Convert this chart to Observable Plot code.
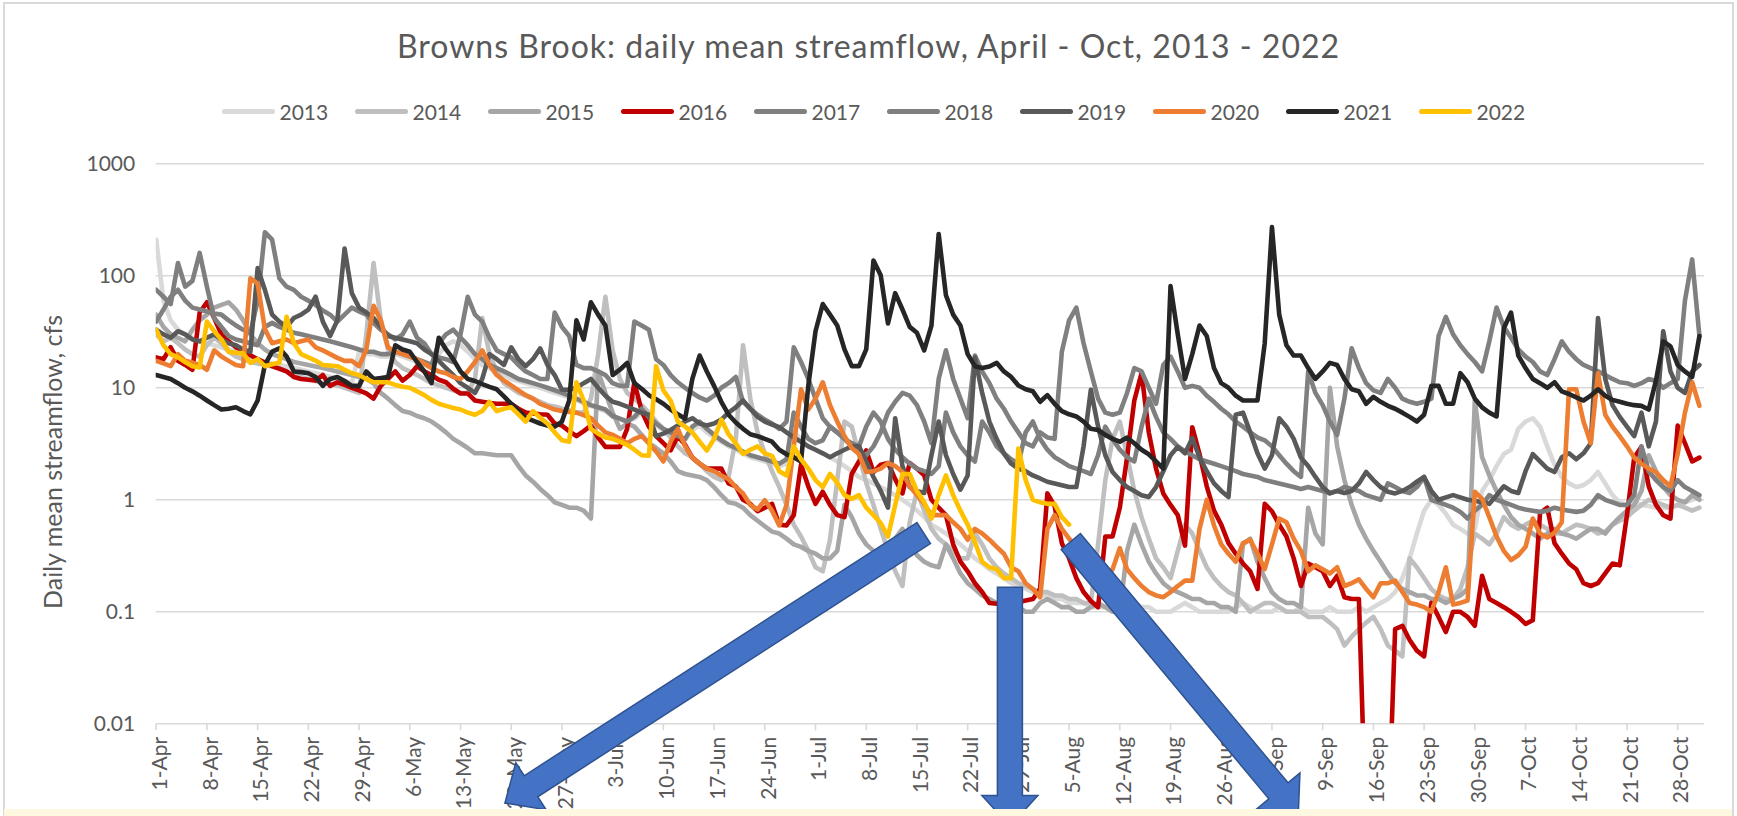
<!DOCTYPE html>
<html><head><meta charset="utf-8">
<script src="https://cdn.jsdelivr.net/npm/d3@7"></script>
<script src="https://cdn.jsdelivr.net/npm/@observablehq/plot@0.6"></script>
<style>
html,body{margin:0;padding:0;background:#fff;width:1737px;height:816px;overflow:hidden;font-family:Lato,sans-serif;}
#frame{position:absolute;left:3px;top:2px;width:1731px;height:840px;border:2px solid #d9d9d9;box-sizing:border-box;}
#title{position:absolute;left:0;width:1737px;top:30px;text-align:center;font-size:32px;line-height:32px;letter-spacing:1px;color:#595959;white-space:nowrap;}
#legend{position:absolute;left:221.5px;top:100px;display:flex;}
.item{width:133px;display:flex;align-items:center;height:22px;}
.sw{width:53px;height:5px;border-radius:3px;margin-right:5px;}
.lab{font-size:21px;color:#595959;line-height:21px;}
#ylab{position:absolute;left:52px;top:462px;transform:translate(-50%,-50%) rotate(-90deg);font-size:25px;color:#595959;white-space:nowrap;}
#chart{position:absolute;left:0;top:140px;}
#strip{position:absolute;left:4px;top:809px;width:1728px;height:7px;background:#fef8e0;}
#dbg{position:absolute;left:10px;top:10px;color:red;font-size:14px;}
</style></head><body>
<div id="frame"></div>
<div id="title">Browns Brook: daily mean streamflow, April - Oct, 2013 - 2022</div>
<div id="legend"></div>
<div id="ylab">Daily mean streamflow, cfs</div>
<div id="chart"></div>
<div id="strip"></div>
<div id="dbg"></div>
<script>
// ---- categories / labels ----
const years = ["2013","2014","2015","2016","2017","2018","2019","2020","2021","2022"];
const colors = ["#D9D9D9","#BFBFBF","#A6A6A6","#C00000","#808080","#7F7F7F","#595959","#ED7D31","#262626","#FFC000"];
const xTickDays = [0,7,14,21,28,35,42,49,56,63,70,77,84,91,98,105,112,119,126,133,140,147,154,161,168,175,182,189,196,203,210];
const xTickLabels = ["1-Apr","8-Apr","15-Apr","22-Apr","29-Apr","6-May","13-May","20-May","27-May","3-Jun","10-Jun","17-Jun","24-Jun","1-Jul","8-Jul","15-Jul","22-Jul","29-Jul","5-Aug","12-Aug","19-Aug","26-Aug","2-Sep","9-Sep","16-Sep","23-Sep","30-Sep","7-Oct","14-Oct","21-Oct","28-Oct"];
const yTickValues = [0.01,0.1,1,10,100,1000];
const yTickLabels = ["0.01","0.1","1","10","100","1000"];

// ---- daily mean streamflow (cfs), one value per day from 1-Apr ----
const v2013 = [210,60,40,33,30,28,26, 25,24,23,22,21,20,19, 18,17,16.5,16,15.5,15,14.5, 14,13.5,13,12.5,12,11.5,11, 21,20,20,19,19,20,19, 18,17,16,15,20,24,26, 24,21,18,16,15,14,13, 12,11.5,11,10.5,10,9.5,9, 8.6,8.2,7.8,7.3,6.9,6.5,6.2, 5.5,5.2,5,5.3,6,5.3,4.6, 4.2,3.9,3.6,3.4,4.2,4.6,4, 3.6,3.3,3,2.8,2.6,2.4,2.3, 2.2,2.1,2,2.1,4,3.5,3, 2.8,2.6,2.4,2.2,2,1.8,1.6, 1.5,1.4,1.3,1.2,1.1,1,0.9, 0.8,0.7,0.6,0.55,0.5,0.45,0.4, 0.35,0.3,0.27,0.24,0.22,0.2,0.18, 0.17,0.16,0.15,0.14,0.14,0.13,0.13, 0.12,0.12,0.12,0.11,0.11,0.11,0.12, 0.13,0.12,0.12,0.11,0.11,0.1,0.1, 0.1,0.11,0.12,0.11,0.1,0.1,0.1, 0.1,0.1,0.11,0.12,0.11,0.1,0.1, 0.1,0.11,0.1,0.1,0.11,0.1,0.1, 0.1,0.11,0.1,0.1,0.1,0.11,0.1, 0.11,0.12,0.13,0.15,0.2,0.3,0.5, 0.8,1,0.9,0.75,0.6,0.55,0.5, 0.55,1.2,1.5,2,2.56,2.8,4.3, 5,5.35,4.5,3,2.06,1.6,1.4, 1.3,1.35,1.5,1.77,1.4,1.1,0.95, 0.9,0.95,0.9,0.88,0.85,0.85,0.85, 0.9,0.95,1,1.06];
const v2014 = [30,26,28,25,22,20,19, 24,28,25,21,19,18,17, 16.5,16,15.5,15,14,13,12.5, 12,11.5,11,11,10.5,10,9.5, 9,30,130,40,22,17,15, 14,13,12,11,10.5,10,9.5, 9,9,12,42,20,14,11, 10,9,8.5,8,7.5,7,6.8, 6.5,6.3,6,6,8,20,65, 21.6,12,9,8,7,6,5, 4.3,3.6,3,2.6,2.4,2.1,1.8, 1.6,1.5,1.6,3.5,24,8,4, 2.6,1.8,1.3,0.9,0.6,0.47,0.35, 0.25,0.23,0.44,1.5,5,4.5,2.5, 1.42,0.9,0.55,0.35,0.23,0.17,0.63, 1.2,0.8,0.55,0.45,0.4,0.35,0.3, 0.3,0.5,0.4,0.3,0.25,0.22,0.2, 0.18,0.17,0.16,0.15,0.15,0.14,0.14, 0.13,0.13,0.12,0.12,0.4,1.5,3.5, 5,2.5,1.2,0.7,0.45,0.3,0.25, 0.2,0.35,0.6,0.5,0.35,0.25,0.2, 0.17,0.15,0.14,0.12,0.1,0.11,0.12, 0.12,0.11,0.1,0.1,0.1,0.09,0.09, 0.09,0.08,0.07,0.05,0.06,0.07,0.08, 0.09,0.07,0.05,0.045,0.04,0.3,0.25, 0.2,0.16,0.14,0.13,0.13,0.16,0.25, 0.5,0.45,0.4,0.5,0.7,0.6,0.55, 0.6,0.65,0.6,0.55,0.5,0.5,0.55, 0.6,0.58,0.55,0.5,0.52,0.6,0.65, 0.7,0.8,0.9,1,0.95,0.9,0.85, 0.9,0.85,0.8,0.85];
const v2015 = [45,35,30,28,26,33,40, 45,52,55,58,50,40,30, 25,22,20,19,18,17,16.5, 16,15.5,15,14.5,14,13.5,13, 12.5,12,11,9,8,7,6.2, 6,5.6,5.35,5,4.5,4,3.5, 3.2,2.9,2.6,2.6,2.55,2.5,2.5, 2.5,2,1.65,1.45,1.25,1.1,0.95, 0.9,0.85,0.85,0.8,0.68,14,9, 6,4.3,4.8,4.5,3.8,3.2,2.9, 2.6,2.2,1.8,1.7,1.65,1.6,1.5, 1.3,1.1,0.95,0.92,0.85,0.73,0.65, 0.58,0.52,0.5,0.45,0.4,0.38,0.35, 0.33,0.3,0.3,0.35,0.9,0.7,0.5, 0.4,0.35,0.3,0.3,0.45,0.55,0.4, 0.32,0.28,0.26,0.25,0.4,0.3,0.22, 0.18,0.16,0.14,0.13,0.12,0.12,0.11, 0.11,0.1,0.1,0.12,0.13,0.12,0.11, 0.11,0.1,0.1,0.11,0.12,0.11,0.1, 0.1,0.35,0.6,0.4,0.28,0.22,0.18, 0.16,0.15,0.14,0.13,0.13,0.12,0.12, 0.11,0.11,0.1,0.4,0.45,0.28,0.2, 0.15,0.13,0.12,0.12,0.11,0.85,0.5, 0.4,10,3,1.5,0.9,0.6,0.45, 0.35,0.28,0.22,0.18,0.16,0.15,0.14, 0.14,0.13,0.13,0.12,0.13,0.14,0.16, 7.7,2.4,1.65,1.2,0.9,0.7,0.6, 0.55,0.5,0.45,0.5,0.55,0.5,0.48, 0.45,0.5,0.55,0.55,0.5,0.6,0.7, 0.8,0.9,1.2,2.5,1.8,1.3,1.1, 1,0.95,1.1,1];
const v2016 = [18.7,18,23,17.4,16,14.5,47, 58,42,30,26,23,21.6,19.5, 18,16.8,15.6,14.8,14,12.5,12, 11.8,11.6,13,10.4,11.2,10.6,10, 9.5,8.9,8,10.4,12,14,11.6, 13,15.6,14,13,11.8,11.2,9.8, 8.9,8.9,7.7,7.5,7.3,7.2,7.2, 7.2,6.5,6,5.9,5.8,5.75,4.8, 4.6,4.1,3.7,4.1,4.6,3.6,2.97, 2.97,2.97,4.3,11.2,6.2,4.5,3.7, 3.2,2.76,3.7,3.1,2.38,2.1,1.9, 1.9,1.9,1.4,1.32,1,0.92,0.79, 0.85,0.92,0.6,0.59,0.73,2.06,1.32, 0.92,1.18,0.9,0.73,0.7,1.7,2.2, 2.76,1.77,2.06,2.13,1.53,1.14,2.13, 1.9,1.65,1,0.85,0.73,0.4,0.28, 0.23,0.18,0.15,0.12,0.118,0.116,0.12, 0.122,0.126,0.13,0.16,1.14,0.88,0.41, 0.3,0.2,0.15,0.125,0.11,0.47,0.47, 0.85,2.38,7.7,13.5,4,1.9,1.14, 0.9,0.73,0.39,4.45,2.56,1.32,0.8, 0.6,0.41,0.33,0.27,0.23,0.16,0.92, 0.79,0.6,0.47,0.3,0.17,0.27,0.25, 0.23,0.17,0.21,0.135,0.13,0.13,0.001, 0.001,0.001,0.001,0.07,0.075,0.056,0.045, 0.04,0.12,0.09,0.066,0.1,0.1,0.09, 0.075,0.21,0.13,0.12,0.11,0.1,0.09, 0.078,0.084,0.76,0.85,0.41,0.33,0.27, 0.24,0.18,0.17,0.18,0.22,0.27,0.26, 0.73,2.38,2.97,1.32,0.9,0.73,0.68, 4.6,3.2,2.2,2.38];
const v2017 = [39,50,65,75,60,52,50, 48,46,45,40,36,33,31, 60,245,210,95,80,75,65, 60,55,49,45,39,45,52, 48,45,38,33,30,27,30, 39,28,25,20,18.7,18,17, 30,65,45,39,28,21.6,20, 18.7,16,14,13,12,12,47, 35,29,16,15,15,14,13, 11,10.4,10.4,39,36,33,18, 16,13,11.2,10,9,8.2,7.7, 8.5,10,11,12.5,7.5,6.5,5.75, 5.2,4.8,4.3,5,23,17,12, 8,5.35,4.5,4,3.5,3,2.7, 2.5,3,4,6,7.5,9,8.5, 7,5,3.2,12,21.6,12,8, 5.35,19.4,14,11,8,6.5,5, 4,3.2,3,4,3.6,3.5,21, 40,52,25,14,8,6,5.75, 6,9,15,14,10,7.2,16, 19,14,10,10.4,10,8.5,7.5, 6.5,5.8,5,4.5,4,3.6,3.4, 3,2.5,2.1,1.8,1.6,14,9, 7,5,3.8,8,22.5,15,11, 9.5,9,12,10,8,7.5,7.2, 7.5,8,29,43,30,24,20, 17,14,26,52,35,28,22, 19,17,14,13,18,26,21, 18,16,15,14,13,12,11.2, 11,10.4,11,12,11.5,10,11, 12,60,140,29];
const v2018 = [75,65,56,130,80,90,160, 80,42,35,29,27,26,25, 24,35,38,35,33,31,30, 29,28,27,26,25,24,23, 22,21,21,20,20,21,20, 19,18,17,16,25,30,33, 28,24,20,18,16,15,14, 13,12,11.5,11,10.5,10,9.5, 9,8.5,8,7.5,7,6.7,6.4, 5.6,5.3,5,5.5,6.5,5.5,4.8, 4.3,4,3.7,3.5,4.5,5,4.3, 3.8,3.4,3.1,2.9,2.7,2.5,2.4, 2.3,2.2,2.1,2.3,6,4.5,3.5, 3.2,3.4,4.5,4,3.5,3.2,3, 4.5,6,5,3.5,2.8,2.4,2.1, 1.9,1.8,1.7,2,6,4,3, 2.5,2.2,5,4,3,2.6,2.3, 2.1,4,5,3.5,2.8,2.4,2.2, 2,1.9,1.8,1.7,2.5,4.5,3.5, 2.8,2.4,2.2,4.5,8,5.5,4, 3.5,3,2.7,2.5,2.3,2.2,2.1, 2,1.9,1.8,1.7,1.65,1.6,1.5, 1.45,1.4,1.35,1.3,1.25,1.3,1.25, 1.2,1.15,1.2,1.3,1.25,1.2,1.1, 1.05,1,1.4,1.3,1.2,1.15,1.3, 1.6,1,0.95,0.9,0.85,0.78,0.68, 0.8,0.9,1.1,1,0.95,0.9,0.85, 0.82,0.8,0.78,0.8,0.85,0.82,0.8, 0.78,0.8,0.9,1.1,1,0.95,0.9, 0.9,1.1,3,1.8,1.5,1.3,1.2, 1.5,1.3,1.2,1.1];
const v2019 = [33,30,28,32,30,27,26, 28,30,27,25,24,22,21, 117,75,45,39,35,42,45, 50,65,39,29,40,175,70, 52,47,42,35,29,28,27, 26,25,22,20,17.4,15,13, 11,10,9,12,20,18,16, 23,18,15.6,18,22.5,16,13, 9.6,9.6,10,11,12,10,8.5, 7.5,7.2,6.8,6.4,6,5.75,3.7, 3.9,4.2,4.6,5,5.35,4.8,4.6, 4.8,5.2,6,6.7,7.7,6.5,5.5, 5,4.7,4.45,4,3.6,3.3,3, 2.8,2.6,2.4,2.6,2.8,3,3, 2.2,1.6,1.2,0.85,5.35,2,1.3, 1.2,1.15,2.5,5,2.5,1.7,1.23, 1.65,18.7,9,5,3.5,2.6,2.1, 1.9,1.8,1.65,1.55,1.45,1.4,1.35, 1.3,1.3,3,9.6,4.5,2.5,1.77, 1.5,1.3,1.2,1.1,1.06,1.3,1.8, 2.5,2.97,2.6,3.55,2.4,1.8,1.4, 1.2,1.06,5.75,6,4,2.6,1.9, 2.5,5.35,4.5,3.5,2.38,2,1.6, 1.3,1.14,1.2,1.15,1.2,1.4,1.77, 1.5,1.3,1.18,1.14,1.2,1.3,1.45, 1.6,1.2,1,1.05,1.1,1.05,1, 0.98,0.95,0.92,1.1,1.32,1.2,1.15, 1.8,2.56,2.2,1.9,1.77,2.4,2.6, 2.3,2.6,3.2,42,12,7,5.5, 4.5,3.7,6,3,5,32,14, 10,9,14,16];
const v2020 = [17.4,16.5,15.6,20,17.4,16.8,16, 14.5,21.6,19,17.4,16,15.6,95, 85,33.5,25,26,27,25,26, 27,23,21.6,20,18.5,17.4,17.4, 15.6,22,54,40,23,21,20, 19,18,16.5,15,14,13.5,12.5, 12,14,17,21.6,16,13,11.6, 10.5,9.5,8.6,8,7.2,6.8,6.4, 6.2,6.1,6,5.7,5.35,4.6,4, 3.8,3.5,3.2,3.5,3.7,3.2,2.7, 2.2,3.3,4.3,3,2.38,2.1,1.9, 1.8,1.65,1.53,1.3,1.14,0.9,0.82, 0.99,0.8,0.59,0.9,3,9.7,6.4, 8,11.2,7,5,3.7,2.9,2.56, 1.77,1.8,1.9,2.13,2,1.77,1.32, 1.1,0.92,0.73,0.73,0.73,0.63,0.55, 0.44,0.55,0.5,0.44,0.38,0.33,0.25, 0.23,0.18,0.16,0.135,0.55,0.73,0.55, 0.45,0.38,0.3,0.23,0.18,0.2,0.24, 0.37,0.24,0.2,0.17,0.15,0.14,0.135, 0.15,0.17,0.19,0.19,0.55,1,0.59, 0.4,0.33,0.28,0.41,0.44,0.33,0.24, 0.4,0.68,0.63,0.45,0.35,0.23,0.26, 0.24,0.22,0.25,0.17,0.18,0.195,0.16, 0.135,0.18,0.18,0.19,0.15,0.12,0.116, 0.11,0.1,0.15,0.25,0.116,0.12,0.126, 1.18,1.02,0.7,0.47,0.35,0.29,0.32, 0.38,0.68,0.5,0.46,0.51,0.63,9.7, 9.7,5,3.2,13.5,5.75,4.5,3.7, 3,2.38,2.1,1.9,1.77,1.5,1.32, 2.56,6,11.2,6.9];
const v2021 = [13,12.5,12,11,10,9.3,8.5, 7.7,7,6.4,6.5,6.7,6.2,5.8, 7.7,16,21,22.5,19,14,13.8, 13.5,12.5,10.4,12,12.5,11.5,10.4, 10.4,14,12,12.2,12.5,24,22, 21,17,14,11,28,22,18, 14,12,11.5,10.8,10.2,9.7,8.4, 7.2,6.3,5.4,5.1,4.8,4.6,4.5, 5,7.7,40,27,58,45,36, 13,14.5,16.7,11,9.8,8.6,7.9, 7.2,6.4,5.8,5.3,12,19.4,14, 10.4,7.5,5.75,4.9,4.3,3.85,3.7, 3.5,3.3,2.8,2.55,2.4,2.2,10.4, 32,56,45,36,22,15.6,15.6, 22,137,101,37.5,70,50,35, 31,21.6,36,236,67,45,36, 20,15.6,15,15.5,16.7,14,12.5, 10.5,9.7,9.3,7.5,8.6,7.2,6.2, 5.8,5.55,5,4.3,4.2,3.8,3.5, 3.3,3.6,3.2,2.8,2.55,2.2,1.9, 81,30,12,20,36,29,15, 11,10,8.5,7.7,7.7,7.7,25, 272,45,24,19.4,19.4,15,12, 14,16.7,16,12,9.7,9.3,7.2, 8.3,7.5,6.9,6.5,6,5.5,5, 5.75,10.4,10.4,7.2,7.2,13.5,11.2, 8,6.7,6,5.55,34,47,19.4, 15,12,11,10,11.2,9.3,8.8, 8.2,7.7,8.5,9.7,8.5,7.8,7.5, 7.2,7,6.9,6.4,11.6,26,23.4, 16,14,12.5,29];
const v2022 = [33,24,20,18.7,17,15.6,15.2, 39,32,27,21,20.5,20.3,16.7, 18,15.6,16.2,16.7,43,25,20, 18.7,17.5,16,15.8,15.6,14.5,13.5, 13,12,11.2,11.2,11.2,10.6,10.2, 10,9.3,8.6,7.8,7.2,6.9,6.6, 6.4,6,5.75,6.2,7.5,6.2,6.5, 6.7,5.8,5,6.2,5.4,4.8,4, 3.4,3.3,11.2,7.7,4.3,3.9,3.6, 3.5,3.3,3.1,2.8,2.5,2.47,15.6, 9.5,7.7,5,4.5,4,3.3,2.76, 3.5,5.2,3.85,3.2,2.56,2.8,3, 2.6,2.47,1.8,1.65,3,2.3,1.9, 1.5,1.3,1.7,1.42,1.1,1.02,1.1, 0.85,0.73,0.62,0.47,0.9,1.7,1.7, 1.2,0.95,0.68,1.1,1.65,1.1,0.8, 0.6,0.42,0.28,0.25,0.24,0.2,0.2, 2.87,1.5,1,0.95,0.92,0.92,0.7, 0.6];
const seriesValues = [v2013,v2014,v2015,v2016,v2017,v2018,v2019,v2020,v2021,v2022];

// ---- block-arrow annotations (tail -> tip, in day / cfs) ----
const arrowFromDay = [106.0, 117.9, 126.3];
const arrowFromVal = [0.50, 0.164, 0.42];
const arrowToDay   = [48.2, 117.9, 157.7];
const arrowToVal   = [0.00194, 0.0012, 0.00153];

// legend
const legend = document.getElementById("legend");
years.forEach((y, k) => {
  const it = document.createElement("div"); it.className = "item";
  const sw = document.createElement("div"); sw.className = "sw"; sw.style.background = colors[k];
  const lb = document.createElement("div"); lb.className = "lab"; lb.textContent = y;
  it.appendChild(sw); it.appendChild(lb); legend.appendChild(it);
});

const bad = seriesValues.map((s,k)=>[years[k], s.length]).filter(([y,n]) => y !== "2022" && n !== 214);
if (bad.length) document.getElementById("dbg").textContent = "LEN " + bad.map(b=>b.join(":")).join(" ");

const xLabelOf = new Map(xTickDays.map((d, i) => [d, xTickLabels[i]]));
const yLabelOf = new Map(yTickValues.map((d, i) => [d, yTickLabels[i]]));

const lineMarks = years.map((yr, k) => Plot.line(
  seriesValues[k].map((v, i) => ({day: i, value: v})).filter(d => d.value != null),
  {x: "day", y: "value", stroke: colors[k], strokeWidth: 4.6, strokeLinejoin: "round", strokeLinecap: "round", clip: true}
));

function arrowsMark(...args) {
  let scales = null;
  for (const a of args) if (a && typeof a.x === "function" && typeof a.y === "function") { scales = a; break; }
  const g = d3.create("svg:g");
  if (!scales) return g.node();
  const w = 25, hw = 56, hl = 31;
  for (let k = 0; k < arrowFromDay.length; k++) {
    const tx = scales.x(arrowFromDay[k]), ty = scales.y(arrowFromVal[k]);
    const px = scales.x(arrowToDay[k]), py = scales.y(arrowToVal[k]);
    const L = Math.hypot(px - tx, py - ty), ux = (px - tx) / L, uy = (py - ty) / L;
    const nx = -uy, ny = ux;
    const bx = px - ux * hl, by = py - uy * hl;
    const pts = [
      [tx + nx * w / 2, ty + ny * w / 2], [bx + nx * w / 2, by + ny * w / 2], [bx + nx * hw / 2, by + ny * hw / 2],
      [px, py],
      [bx - nx * hw / 2, by - ny * hw / 2], [bx - nx * w / 2, by - ny * w / 2], [tx - nx * w / 2, ty - ny * w / 2]
    ];
    g.append("polygon").attr("points", pts.map(p => p.join(",")).join(" "))
      .attr("fill", "#4472C4").attr("stroke", "#2F528F").attr("stroke-width", 1.5).attr("stroke-linejoin", "miter");
  }
  return g.node();
}

const chart = Plot.plot({
  width: 1737, height: 676,
  marginTop: 23.3, marginRight: 33, marginBottom: 92.7, marginLeft: 155.7,
  x: {domain: [0, 213.7], label: null},
  y: {type: "log", domain: [0.01, 1000], label: null},
  style: {fontFamily: "Lato, sans-serif", background: "none", overflow: "visible"},
  marks: [
    Plot.gridY(yTickValues, {stroke: "#d9d9d9", strokeOpacity: 1, strokeWidth: 1.6}),
    Plot.axisY(yTickValues, {tickSize: 0, tickPadding: 21, tickFormat: d => yLabelOf.get(d), fontSize: 21, fill: "#595959", label: null}),
    Plot.axisX(xTickDays, {tickSize: 7, tickFormat: () => "", stroke: "#d9d9d9", strokeWidth: 1.6, label: null}),
    Plot.axisX(xTickDays, {tickSize: 0, tickPadding: 13, tickRotate: -90, dx: 4, tickFormat: d => xLabelOf.get(d), fontSize: 21, fill: "#595959", label: null}),
    ...lineMarks,
    arrowsMark
  ]
});
document.getElementById("chart").appendChild(chart);
</script>
</body></html>
